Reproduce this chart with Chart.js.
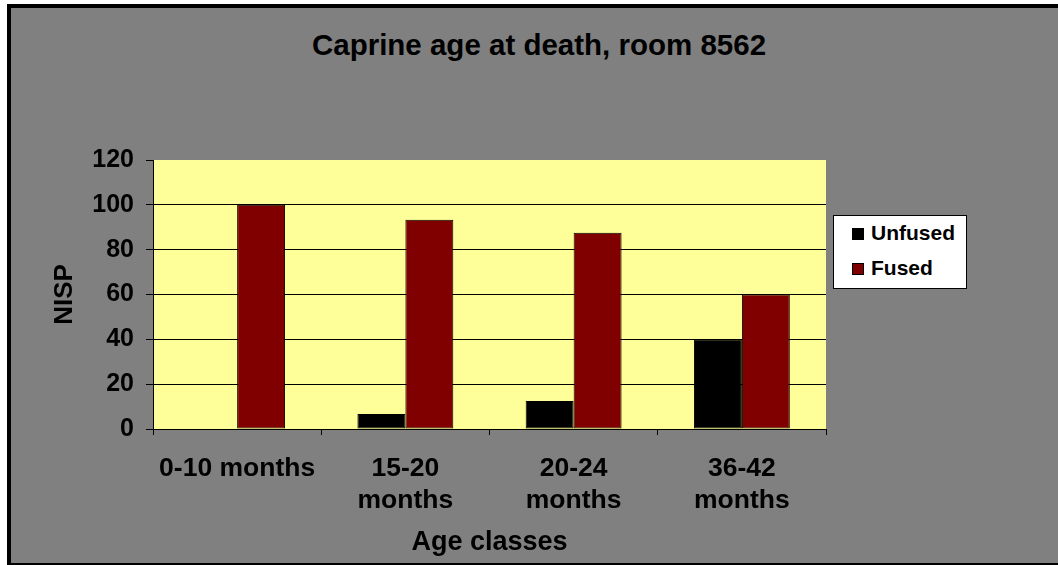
<!DOCTYPE html>
<html>
<head>
<meta charset="utf-8">
<script src="https://cdn.jsdelivr.net/npm/chart.js@4"></script>
<style>
  body { margin: 0; background: #fff; overflow: hidden; font-family: "Liberation Sans", Arial, sans-serif; }
  #frame { position: absolute; left: 7px; top: 4px; width: 1100px; height: 563px; box-sizing: border-box;
           border: 4px solid #000; background: #808080; }
  #wrap { position: absolute; left: 0; top: 0; width: 1058px; height: 565px; }
  #title { position: absolute; left: 0; top: 30px; width: 1078px; text-align: center;
           font: bold 29.5px/29px "Liberation Sans", Arial, sans-serif; color: #000; }
  #legend { position: absolute; left: 833px; top: 215px; width: 134px; height: 74px; box-sizing: border-box;
            background: #fff; border: 1px solid #000; }
  .sw { position: absolute; width: 12px; height: 12px; box-sizing: border-box; border: 1px solid #000; }
  .lt { position: absolute; font: bold 21px/20px "Liberation Sans", Arial, sans-serif; color: #000; }
</style>
</head>
<body>
<div id="frame"></div>
<div id="title">Caprine age at death, room 8562</div>
<div id="wrap"><canvas id="canvas" width="1058" height="565"></canvas></div>
<div id="legend"></div>
<script>
// data (NISP %)
var categories = [['0-10 months'], ['15-20', 'months'], ['20-24', 'months'], ['36-42', 'months']];
var unfused = [0, 6.7, 12.5, 40];
var fused = [100, 93.3, 87.5, 60];
var yTicks = [0, 20, 40, 60, 80, 100, 120];

var seriesNames = ['Unfused', 'Fused'];
var seriesColors = ['#000000', '#800000'];

// legend
var legend = document.getElementById('legend');
seriesNames.forEach(function (name, i) {
    var sw = document.createElement('div');
    sw.className = 'sw';
    sw.style.left = (852 - 833 - 1) + 'px';
    sw.style.top = (228 + i * 35 - 215 - 1) + 'px';
    sw.style.background = seriesColors[i];
    legend.appendChild(sw);
    var t = document.createElement('div');
    t.className = 'lt';
    t.style.left = (871 - 833 - 1) + 'px';
    t.style.top = (223 + i * 35 - 215 - 1) + 'px';
    t.textContent = name;
    legend.appendChild(t);
});

var plotBg = {
    id: 'plotBg',
    beforeDraw: function (chart) {
        var a = chart.chartArea, ctx = chart.ctx;
        ctx.save();
        ctx.fillStyle = '#FFFF99';
        ctx.fillRect(a.left, a.top, a.right - a.left, a.bottom - a.top);
        ctx.restore();
    }
};

var font = '"Liberation Sans", Arial, sans-serif';

var ctx = document.getElementById('canvas').getContext('2d');
var chart = new Chart(ctx, {
    type: 'bar',
    data: {
        labels: categories,
        datasets: [{
            label: seriesNames[0],
            data: unfused,
            backgroundColor: seriesColors[0],
            borderColor: '#000',
            borderWidth: 1,
            borderSkipped: false
        }, {
            label: seriesNames[1],
            data: fused,
            backgroundColor: seriesColors[1],
            borderColor: '#000',
            borderWidth: 1,
            borderSkipped: false
        }]
    },
    options: {
        responsive: false,
        animation: false,
        devicePixelRatio: 1,
        layout: { padding: { top: 160, left: 45, right: 232, bottom: 2 } },
        datasets: { bar: { barPercentage: 1, categoryPercentage: 0.57 } },
        plugins: {
            legend: { display: false },
            title: { display: false },
            tooltip: { enabled: false }
        },
        scales: {
            x: {
                grid: { color: 'rgba(0,0,0,0)', tickColor: '#000', tickLength: 6, offset: true },
                border: { color: '#000', width: 1 },
                ticks: { color: '#000', padding: 18, maxRotation: 0, autoSkip: false,
                         font: { family: font, size: 26.5, weight: 'bold', lineHeight: 1.2 } },
                title: { display: true, text: 'Age classes', color: '#000',
                         font: { family: font, size: 27, weight: 'bold', lineHeight: 1.2 },
                         padding: { top: 4, bottom: 4 } },
                afterFit: function (scale) { scale.height = 134; }
            },
            y: {
                min: 0,
                max: 120,
                afterBuildTicks: function (scale) {
                    scale.ticks = yTicks.map(function (v) { return { value: v }; });
                },
                grid: {
                    color: function (c) { return (c.tick && c.tick.value === 120) ? 'rgba(0,0,0,0)' : '#000'; },
                    tickColor: '#000',
                    tickLength: 7
                },
                border: { color: '#000', width: 1 },
                ticks: { color: '#000', padding: 12,
                         font: { family: font, size: 25, weight: 'bold' } },
                title: { display: true, text: 'NISP', color: '#000',
                         font: { family: font, size: 26, weight: 'bold', lineHeight: 1.2 },
                         padding: { top: 4, bottom: 4 } },
                afterFit: function (scale) { scale.width = 108; }
            }
        }
    },
    plugins: [plotBg]
});
</script>
</body>
</html>
